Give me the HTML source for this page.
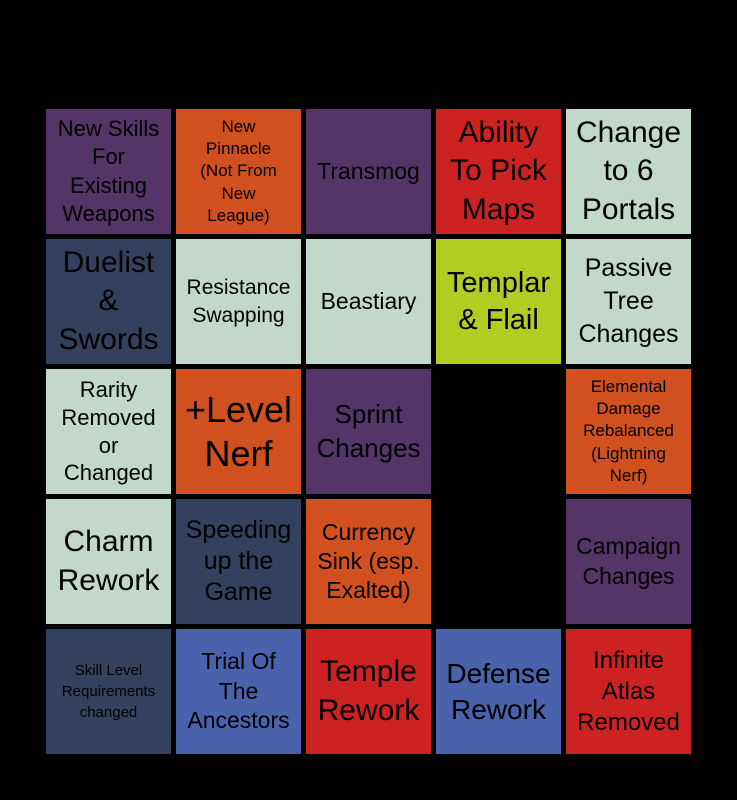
<!DOCTYPE html>
<html><head><style>
body{margin:0;background:#000;width:737px;height:800px;position:relative;overflow:hidden;font-family:"Liberation Sans",sans-serif}
.c{position:absolute;width:125px;height:125px;display:flex;align-items:center;justify-content:center;text-align:center;color:#000;line-height:1.2}
.p{background:#553467}.o{background:#d0501f}.r{background:#cc2222}.g{background:#c2d8ca}.d{background:#34415e}.l{background:#b2cc22}.b{background:#4a62ab}
</style></head><body>
<div class="c p" style="left:46px;top:109px;font-size:22px;line-height:1.28">New Skills<br>For<br>Existing<br>Weapons</div>
<div class="c o" style="left:176px;top:109px;font-size:17px;line-height:1.3">New<br>Pinnacle<br>(Not From<br>New<br>League)</div>
<div class="c p" style="left:306px;top:109px;font-size:23px">Transmog</div>
<div class="c r" style="left:436px;top:109px;font-size:30px;line-height:1.27">Ability<br>To Pick<br>Maps</div>
<div class="c g" style="left:566px;top:109px;font-size:30px;line-height:1.27">Change<br>to 6<br>Portals</div>

<div class="c d" style="left:46px;top:239px;font-size:30px;line-height:1.27">Duelist<br>&amp;<br>Swords</div>
<div class="c g" style="left:176px;top:239px;font-size:21px;line-height:1.3">Resistance<br>Swapping</div>
<div class="c g" style="left:306px;top:239px;font-size:23px">Beastiary</div>
<div class="c l" style="left:436px;top:239px;font-size:29px;line-height:1.27">Templar<br>&amp; Flail</div>
<div class="c g" style="left:566px;top:239px;font-size:25px;line-height:1.33">Passive<br>Tree<br>Changes</div>

<div class="c g" style="left:46px;top:369px;font-size:22px;line-height:1.27">Rarity<br>Removed<br>or<br>Changed</div>
<div class="c o" style="left:176px;top:369px;font-size:36px;line-height:1.22">+Level<br>Nerf</div>
<div class="c p" style="left:306px;top:369px;font-size:26px;line-height:1.27">Sprint<br>Changes</div>
<div class="c" style="left:436px;top:369px;background:#000"></div>
<div class="c o" style="left:566px;top:369px;font-size:17px;line-height:1.3">Elemental<br>Damage<br>Rebalanced<br>(Lightning<br>Nerf)</div>

<div class="c g" style="left:46px;top:499px;font-size:30px;line-height:1.27">Charm<br>Rework</div>
<div class="c d" style="left:176px;top:499px;font-size:25px;line-height:1.25">Speeding<br>up the<br>Game</div>
<div class="c o" style="left:306px;top:499px;font-size:23px;line-height:1.27">Currency<br>Sink (esp.<br>Exalted)</div>
<div class="c" style="left:436px;top:499px;background:#000"></div>
<div class="c p" style="left:566px;top:499px;font-size:23px;line-height:1.27">Campaign<br>Changes</div>

<div class="c d" style="left:46px;top:629px;font-size:15px;line-height:1.4">Skill Level<br>Requirements<br>changed</div>
<div class="c b" style="left:176px;top:629px;font-size:23px;line-height:1.3">Trial Of<br>The<br>Ancestors</div>
<div class="c r" style="left:306px;top:629px;font-size:30px;line-height:1.27">Temple<br>Rework</div>
<div class="c b" style="left:436px;top:629px;font-size:28px;line-height:1.27">Defense<br>Rework</div>
<div class="c r" style="left:566px;top:629px;font-size:24px;line-height:1.3">Infinite<br>Atlas<br>Removed</div>
</body></html>
